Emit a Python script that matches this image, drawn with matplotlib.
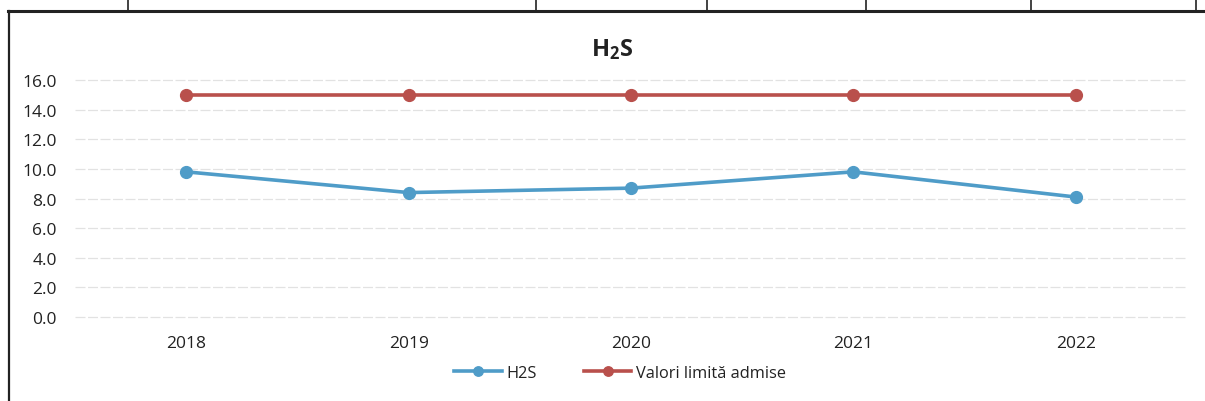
import matplotlib
matplotlib.use("Agg")
import matplotlib.pyplot as plt
from matplotlib.lines import Line2D

plt.rcParams['font.family'] = ['Open Sans', 'DejaVu Sans']
plt.rcParams['mathtext.fontset'] = 'custom'
plt.rcParams['mathtext.rm'] = 'Open Sans'
plt.rcParams['mathtext.bf'] = 'Open Sans:bold'

years = ["2018", "2019", "2020", "2021", "2022"]
h2s = [9.8, 8.4, 8.7, 9.8, 8.1]
limit = [15.0, 15.0, 15.0, 15.0, 15.0]
yticks = [0, 2, 4, 6, 8, 10, 12, 14, 16]

W, H = 1205, 402
fig = plt.figure(figsize=(W / 100, H / 100), dpi=100)
fig.patch.set_facecolor('white')

ax = fig.add_axes([75 / W, (H - 318) / H, (1187 - 75) / W, (318 - 81) / H])
x = list(range(len(years)))
blue = '#4f9cc8'
red = '#b9504c'
ax.plot(x, h2s, color=blue, lw=2.6, marker='o', markersize=8.5, label='H2S', zorder=3)
ax.plot(x, limit, color=red, lw=2.6, marker='o', markersize=8.5, label='Valori limită admise', zorder=3)

ax.set_xlim(-0.5, len(years) - 0.5)
ax.set_ylim(0, 16)
ax.set_yticks(yticks)
ax.set_yticklabels([f"{v:.1f}" for v in yticks])
ax.set_xticks(x)
ax.set_xticklabels(years)
ax.tick_params(axis='both', length=0, labelsize=12.5, colors='#222222')
ax.tick_params(axis='y', pad=13)
ax.tick_params(axis='x', pad=13)
for s in ax.spines.values():
    s.set_visible(False)
for v in yticks:
    ax.axhline(v, color='#e2e2e2', lw=0.9, ls=(0, (8, 2)), zorder=1, clip_on=False)

fig.text(612 / W, (H - 50) / H, r"$\mathbf{H_2S}$", ha='center', va='center', fontsize=17, color='#222222')

leg = fig.legend(loc='center', bbox_to_anchor=(620 / W, (H - 374) / H), ncol=2, frameon=False,
                 fontsize=11.8, handlelength=2.9, handletextpad=0.25, columnspacing=2.9,
                 markerscale=0.8)
for t in leg.get_texts():
    t.set_color('#222222')

# frame lines from the scanned page
fig.add_artist(Line2D([8 / W, 1], [(H - 12) / H] * 2, color='#222222', lw=2.2))
fig.add_artist(Line2D([9 / W] * 2, [0, (H - 12) / H], color='#222222', lw=1.6))
for xv in [128, 536, 707, 866, 1031, 1196]:
    fig.add_artist(Line2D([xv / W] * 2, [(H - 12) / H, 1], color='#222222', lw=1.2))

fig.savefig('out.png', dpi=100, facecolor='white')
